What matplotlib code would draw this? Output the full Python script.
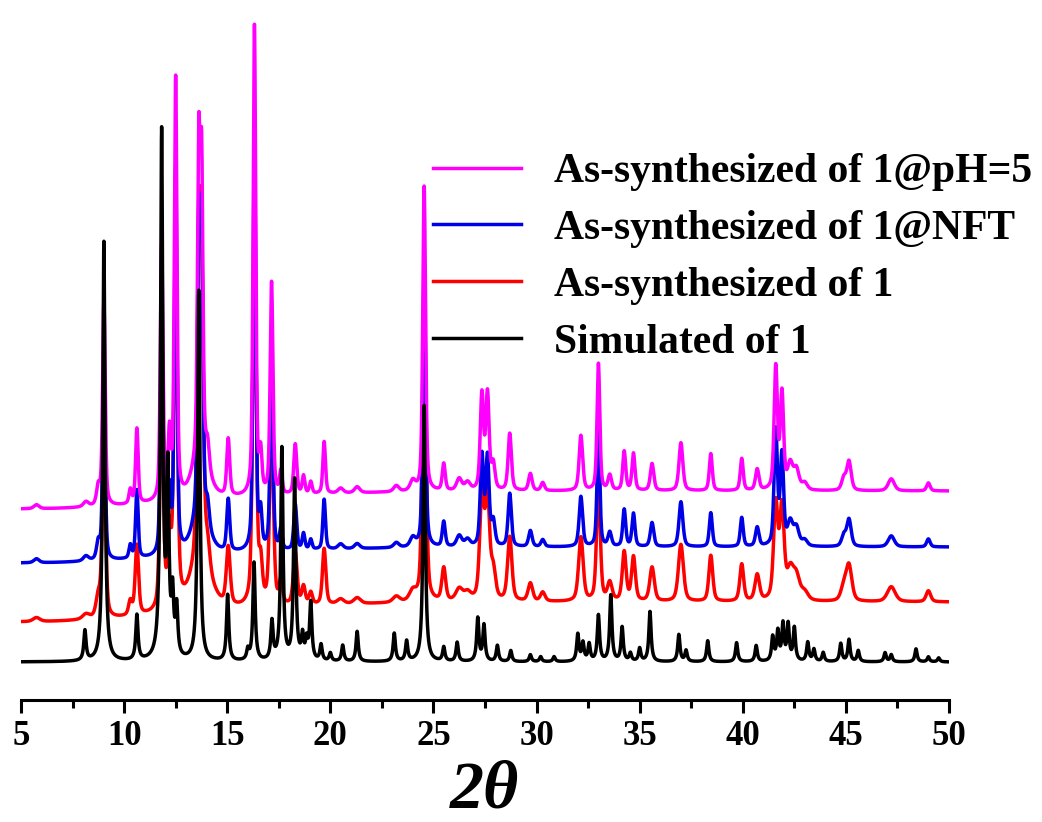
import numpy as np
import matplotlib.pyplot as plt

# 2-theta grid of the patterns
two_theta = np.arange(5.0, 50.0001, 0.01)

# simulated pattern of 1 (peak positions / intensities, arb. units)
sim_pos = [8.1, 9.02, 10.62, 11.82, 12.12, 12.35, 12.55, 13.62, 15.02, 16.0,
           16.3, 17.17, 17.65, 18.27, 18.65, 18.85, 19.05, 19.55, 20.0, 20.6,
           21.3, 23.1, 23.7, 24.55, 25.5, 26.15, 27.15, 27.45, 28.1, 28.75,
           29.7, 30.2, 30.85, 32.0, 32.25, 32.55, 33.0, 33.6, 34.15, 34.55,
           35.0, 35.5, 36.9, 37.25, 38.3, 39.7, 40.65, 41.45, 41.7, 41.95,
           42.2, 42.5, 43.15, 43.45, 43.9, 44.75, 45.15, 45.6, 46.9, 47.2,
           48.4, 49.0, 49.5]
sim_int = [30, 420, 45, 525, 180, 58, 48, 370, 66, 10,
           98, 38, 212, 180, 23, 18, 57, 16, 8, 16,
           30, 28, 20, 256, 14, 19, 43, 36, 16, 11,
           7, 5, 5, 27, 18, 17, 46, 66, 34, 8,
           13, 50, 27, 11, 21, 19, 16, 24, 29, 36,
           36, 33, 19, 12, 9, 18, 22, 11, 9, 7,
           13, 5, 4]

# measured patterns (shared peak positions and widths)
exp_pos = [5.75, 8.15, 8.75, 9.02, 10.3, 10.62, 11.82, 12.2, 12.5, 13.62,
           13.76, 13.7, 14.05, 15.05, 16.32, 16.62, 17.15, 17.6, 18.3, 18.7,
           19.05, 19.7, 20.5, 21.3, 23.2, 24.0, 24.55, 25.5, 26.25, 26.65,
           27.35, 27.62, 27.9, 28.7, 29.7, 30.3, 32.15, 33.0, 33.55, 34.25,
           34.7, 35.6, 37.0, 38.45, 39.95, 40.7, 41.6, 41.9, 42.3, 42.6,
           43.0, 44.9, 45.15, 47.2, 49.0]
exp_fwhm = [0.3, 0.3, 0.2, 0.15, 0.15, 0.15, 0.15, 0.15, 0.15, 0.15,
            0.15, 0.9, 0.2, 0.17, 0.15, 0.15, 0.16, 0.15, 0.17, 0.15,
            0.15, 0.15, 0.3, 0.3, 0.3, 0.3, 0.16, 0.17, 0.3, 0.3,
            0.19, 0.19, 0.2, 0.19, 0.2, 0.2, 0.2, 0.16, 0.2, 0.17,
            0.17, 0.2, 0.22, 0.17, 0.17, 0.2, 0.19, 0.19, 0.3, 0.3,
            0.3, 0.25, 0.25, 0.35, 0.2]
int_ph5 = [4, 5, 18, 205, 14, 75, 255, 62, 420, 300,
           280, 40, 25, 57, 470, 38, 212, 22, 50, 18,
           12, 52, 5, 6, 6, 10, 305, 27, 12, 8,
           95, 95, 25, 57, 17, 8, 55, 127, 15, 39,
           37, 27, 48, 37, 32, 21, 122, 95, 25, 20,
           7, 12, 29, 12, 8]
int_nft = [4, 5, 17, 185, 13, 68, 230, 60, 385, 280,
           260, 38, 22, 52, 425, 35, 195, 20, 45, 16,
           10, 50, 5, 5, 5, 9, 280, 25, 11, 7,
           90, 88, 24, 53, 16, 7, 50, 115, 14, 37,
           33, 24, 45, 34, 29, 19, 115, 90, 23, 18,
           6, 11, 27, 11, 8]
int_as = [4, 5, 20, 165, 14, 70, 220, 70, 360, 290,
          260, 45, 25, 58, 380, 38, 190, 22, 52, 18,
          12, 56, 5, 6, 6, 10, 290, 33, 12, 8,
          105, 100, 28, 64, 18, 9, 64, 120, 18, 49,
          44, 34, 57, 46, 37, 26, 95, 90, 28, 22,
          8, 14, 35, 15, 11]

labels = ['Simulated of 1', 'As-synthesized of 1',
          'As-synthesized of 1@NFT', 'As-synthesized of 1@pH=5']
colors = ['black', '#ff0000', '#0000e6', '#ff00ff']
offsets = [38, 98, 153, 209]
low_angle_dip = [0, 20, 16, 18]
width_scale = [1.0, 1.3, 1.0, 1.0]


def pseudo_voigt(x, pos, amp, fwhm, eta=0.5):
    y = np.zeros_like(x)
    for p, a, w in zip(pos, amp, fwhm):
        g = np.exp(-4 * np.log(2) * ((x - p) / w) ** 2)
        l = 1 / (1 + 4 * ((x - p) / w) ** 2)
        y += a * (eta * l + (1 - eta) * g)
    return y


patterns = [
    pseudo_voigt(two_theta, sim_pos, sim_int, [0.13] * len(sim_pos), eta=1.0),
    pseudo_voigt(two_theta, exp_pos, int_as, np.array(exp_fwhm) * width_scale[1]),
    pseudo_voigt(two_theta, exp_pos, int_nft, exp_fwhm),
    pseudo_voigt(two_theta, exp_pos, int_ph5, exp_fwhm),
]

plt.rcParams['font.family'] = 'Liberation Serif'
plt.rcParams['font.weight'] = 'bold'

fig = plt.figure(figsize=(10.42, 8.22), dpi=100)
ax = fig.add_axes([21 / 1042, 122 / 822, 928 / 1042, 700 / 822])

lines = []
for i, (pat, lab, col) in enumerate(zip(patterns, labels, colors)):
    # background is a bit lower at low angle for the measured patterns
    bg = offsets[i] - low_angle_dip[i] * np.exp(-((two_theta - 5) / 8) ** 2 / 2)
    z = 5 if i == 0 else i + 1
    ln, = ax.plot(two_theta, pat + bg, color=col, lw=2.5, label=lab, zorder=z)
    lines.append(ln)

ax.set_xlim(5, 50)
ax.set_ylim(0, 700)
ax.set_xticks(np.arange(5, 51, 5))
ax.set_xticks(np.arange(7.5, 50, 5), minor=True)
ax.set_yticks([])
for s in ['left', 'right', 'top']:
    ax.spines[s].set_visible(False)
ax.spines['bottom'].set_linewidth(2.2)
ax.tick_params(axis='x', which='major', direction='out', length=9.4, width=2.2,
               labelsize=25, pad=5)
ax.tick_params(axis='x', which='minor', direction='out', length=5.8, width=2.2)
fig.text(484 / 1042, 15 / 822, '2θ', ha='center', va='baseline', fontsize=49,
         fontstyle='italic', fontweight='bold')

leg = ax.legend(lines[::-1], labels[::-1], loc='upper left',
                bbox_to_anchor=(412 / 928, 1 - 153 / 700), frameon=False,
                fontsize=30, handlelength=2.1, handletextpad=0.8,
                labelspacing=0.45, borderpad=0, borderaxespad=0)
for ln in leg.get_lines():
    ln.set_linewidth(2.5)

fig.savefig('out.png', dpi=100)
